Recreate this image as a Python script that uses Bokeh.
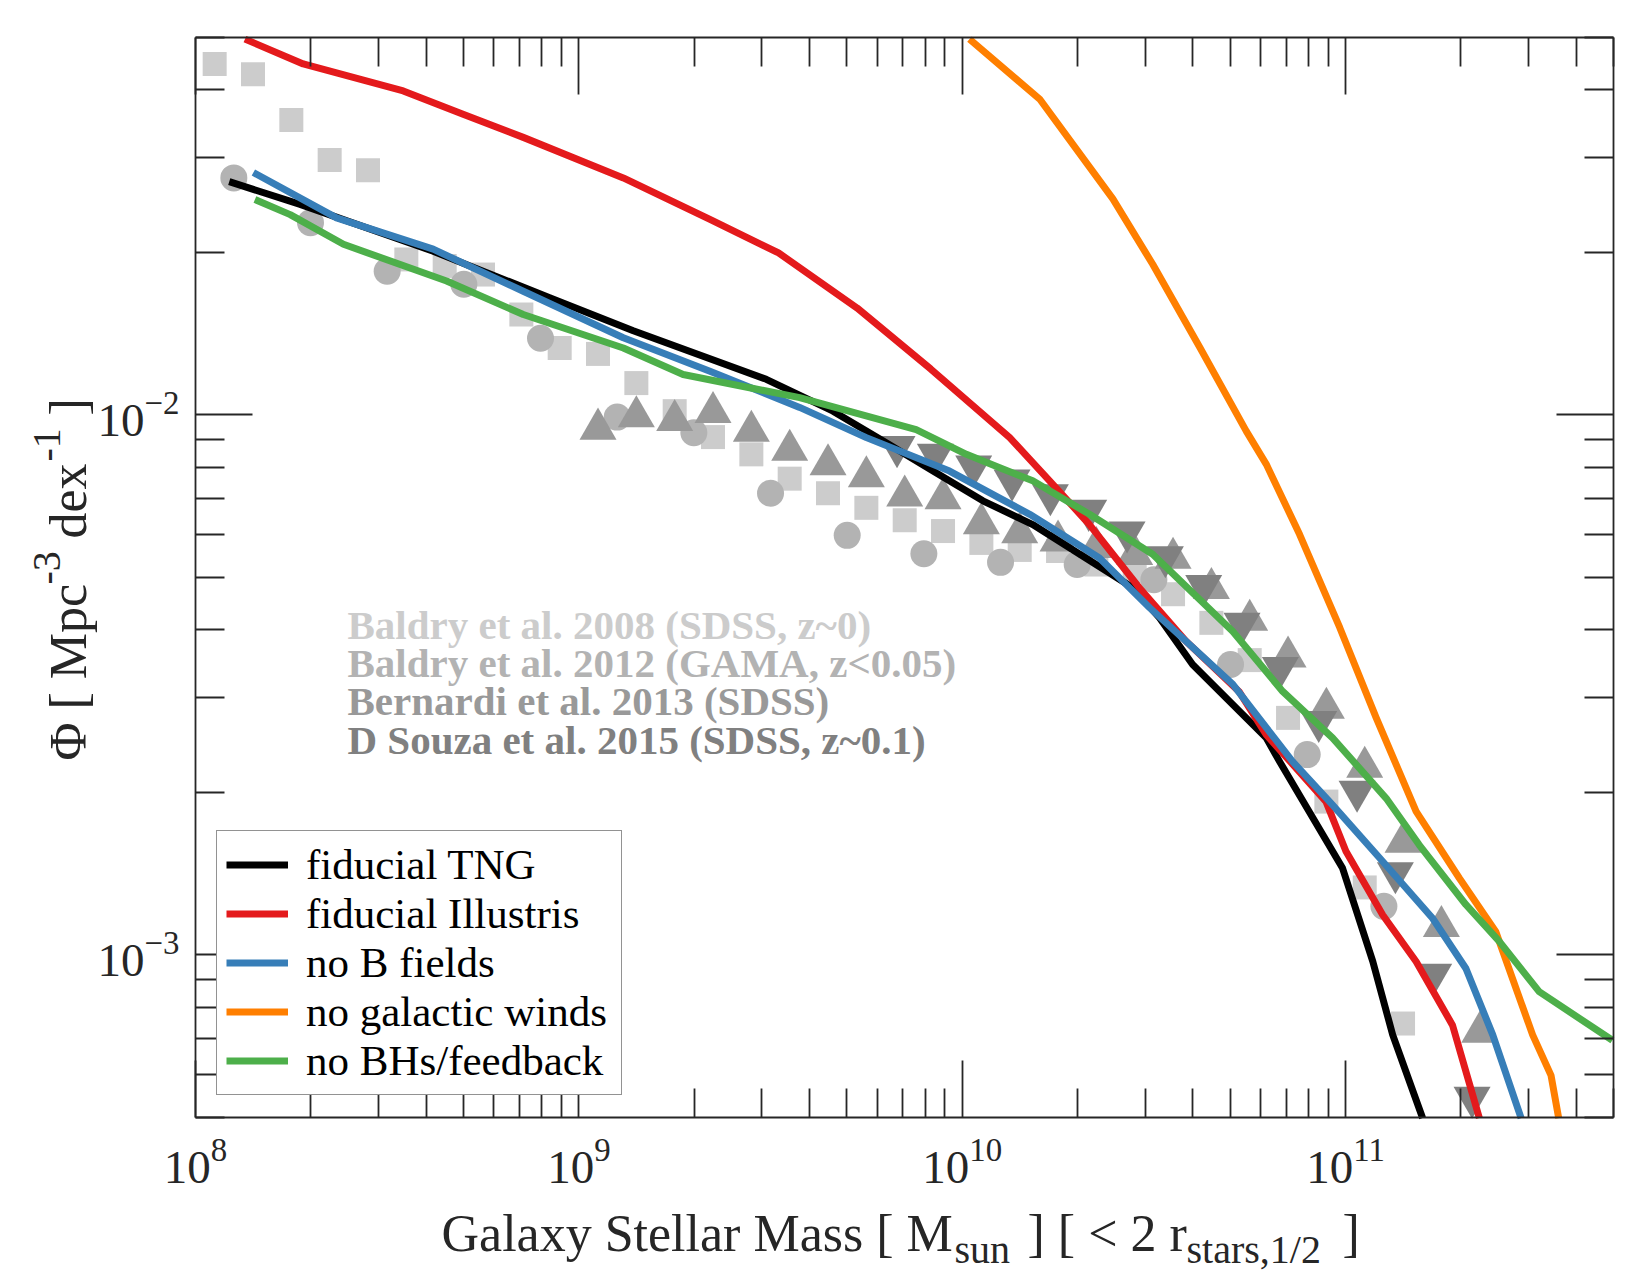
import numpy as np
from bokeh.plotting import figure
from bokeh.models import LogAxis, FixedTicker, LogTickFormatter, Legend, LegendItem, Label, Range1d
from bokeh.embed import file_html
from bokeh.resources import INLINE

# ---------------- data: log10 values ----------------
# simulation curves
tng_logm = [8.088, 8.273, 8.620, 8.924, 9.142, 9.489, 9.663, 9.793, 9.924, 10.054, 10.184,
            10.376, 10.445, 10.515, 10.601, 10.793, 10.828, 10.992, 11.071, 11.123, 11.201]
tng_logphi = [-1.568, -1.610, -1.697, -1.783, -1.844, -1.934, -1.993, -2.048, -2.104, -2.159, -2.203,
              -2.289, -2.320, -2.376, -2.462, -2.598, -2.642, -2.839, -3.012, -3.148, -3.302]

ill_logm = [8.129, 8.281, 8.542, 8.698, 8.855, 9.116, 9.342, 9.521, 9.726, 9.918, 10.124,
            10.228, 10.332, 10.462, 10.584, 10.722, 10.793, 10.949, 11.001, 11.097, 11.184,
            11.279, 11.349]
ill_logphi = [-1.304, -1.350, -1.400, -1.443, -1.486, -1.561, -1.638, -1.700, -1.802, -1.915, -2.042,
              -2.122, -2.203, -2.320, -2.419, -2.512, -2.592, -2.716, -2.808, -2.926, -3.012,
              -3.130, -3.302]

nob_logm = [8.151, 8.368, 8.620, 8.855, 9.116, 9.342, 9.576, 9.750, 9.967, 10.176, 10.358,
            10.489, 10.706, 10.862, 10.966, 11.097, 11.227, 11.314, 11.384, 11.458]
nob_logphi = [-1.551, -1.635, -1.693, -1.771, -1.857, -1.919, -1.986, -2.042, -2.104, -2.184, -2.265,
              -2.357, -2.499, -2.642, -2.722, -2.827, -2.932, -3.025, -3.148, -3.302]

nowind_logm = [10.019, 10.202, 10.393, 10.497, 10.620, 10.741, 10.793, 10.880, 10.985, 11.080,
               11.184, 11.297, 11.392, 11.488, 11.536, 11.556]
nowind_logphi = [-1.304, -1.415, -1.600, -1.721, -1.875, -2.030, -2.091, -2.221, -2.394, -2.561,
                 -2.734, -2.858, -2.957, -3.148, -3.223, -3.302]

nobh_logm = [8.155, 8.247, 8.386, 8.655, 8.855, 9.116, 9.272, 9.576, 9.880, 10.011, 10.098,
             10.184, 10.332, 10.497, 10.706, 10.836, 10.966, 11.106, 11.192, 11.314, 11.401,
             11.505, 11.696]
nobh_logphi = [-1.601, -1.629, -1.684, -1.752, -1.814, -1.876, -1.925, -1.968, -2.027, -2.073, -2.098,
               -2.122, -2.184, -2.258, -2.401, -2.512, -2.598, -2.710, -2.796, -2.907, -2.975,
               -3.068, -3.158]

# observational data points
baldry08_logm = [8.05, 8.15, 8.25, 8.35, 8.45, 8.55, 8.65, 8.75, 8.85, 8.95, 9.05, 9.15, 9.25,
                 9.35, 9.45, 9.55, 9.65, 9.75, 9.85, 9.95, 10.05, 10.15, 10.25, 10.35, 10.45,
                 10.55, 10.65, 10.75, 10.85, 10.95, 11.05, 11.15]
baldry08_logphi = [-1.350, -1.369, -1.454, -1.528, -1.547, -1.712, -1.724, -1.740, -1.814, -1.876,
                   -1.887, -1.941, -1.993, -2.041, -2.073, -2.118, -2.145, -2.172, -2.195, -2.215,
                   -2.237, -2.250, -2.252, -2.277, -2.289, -2.332, -2.385, -2.454, -2.561, -2.716,
                   -2.875, -3.127]

baldry12_logm = [8.1, 8.3, 8.5, 8.7, 8.9, 9.1, 9.3, 9.5, 9.7, 9.9, 10.1, 10.3, 10.5, 10.7, 10.9, 11.1]
baldry12_logphi = [-1.561, -1.644, -1.734, -1.758, -1.858, -2.004, -2.033, -2.145, -2.223, -2.257,
                   -2.273, -2.277, -2.305, -2.462, -2.629, -2.910]

bernardi_logm = [9.05, 9.15, 9.25, 9.35, 9.45, 9.55, 9.65, 9.75, 9.85, 9.95, 10.05, 10.15, 10.25,
                 10.35, 10.45, 10.55, 10.65, 10.75, 10.85, 10.95, 11.05, 11.15, 11.25, 11.35]
bernardi_logphi = [-2.026, -2.003, -2.010, -1.995, -2.030, -2.065, -2.092, -2.114, -2.150, -2.155,
                   -2.201, -2.218, -2.233, -2.245, -2.258, -2.265, -2.321, -2.380, -2.448, -2.543,
                   -2.652, -2.791, -2.947, -3.143]

dsouza_logm = [9.83, 9.93, 10.03, 10.13, 10.23, 10.33, 10.43, 10.53, 10.63, 10.73, 10.83, 10.93,
               11.03, 11.13, 11.23, 11.33]
dsouza_logphi = [-2.059, -2.073, -2.095, -2.121, -2.148, -2.177, -2.217, -2.263, -2.316, -2.386,
                 -2.468, -2.568, -2.697, -2.848, -3.036, -3.264]

legend_labels = ["fiducial TNG", "fiducial Illustris", "no B fields", "no galactic winds", "no BHs/feedback"]
obs_labels = ["Baldry et al. 2008 (SDSS, z~0)", "Baldry et al. 2012 (GAMA, z<0.05)",
              "Bernardi et al. 2013 (SDSS)", "D Souza et al. 2015 (SDSS, z~0.1)"]

# ---------------- styling ----------------
LINE_COLORS = ["#000000", "#e41a1c", "#377eb8", "#ff7f00", "#4daf4a"]
OBS_COLORS = ["#cccccc", "#b3b3b3", "#999999", "#808080"]
AX = "#262626"
FONT = "Liberation Serif"

W, H = 1650, 1275
BL, BR, BT, BB = 195, 1613, 37, 1117          # plot box edges in canvas pixels
XMIN, XMAX, YMIN, YMAX = 1e8, 5e11, 5e-4, 5e-2

# the plotting frame covers the whole canvas; the box is drawn by axes fixed at its edges
ppd_x = (BR - BL) / (np.log10(XMAX) - np.log10(XMIN))
ppd_y = (BB - BT) / (np.log10(YMAX) - np.log10(YMIN))
x_rng = Range1d(10 ** (np.log10(XMIN) - BL / ppd_x), 10 ** (np.log10(XMAX) + (W - BR) / ppd_x))
y_rng = Range1d(10 ** (np.log10(YMIN) - (H - BB) / ppd_y), 10 ** (np.log10(YMAX) + BT / ppd_y))

p = figure(width=W, height=H, x_axis_type="log", y_axis_type="log",
           x_range=x_rng, y_range=y_rng,
           output_backend="svg", toolbar_location=None,
           min_border_left=0, min_border_right=0, min_border_top=0, min_border_bottom=0)
p.xgrid.visible = False
p.ygrid.visible = False
p.outline_line_color = None
p.background_fill_color = "white"
p.border_fill_color = "white"

x_major = [1e8, 1e9, 1e10, 1e11]
x_minor = [m * 10.0 ** e for e in range(8, 12) for m in range(2, 10) if m * 10.0 ** e <= 5e11]
y_major = [1e-3, 1e-2]
y_minor = [m * 10.0 ** e for e in (-4, -3, -2) for m in range(2, 10) if 5e-4 <= m * 10.0 ** e <= 5e-2]


def style_axis(ax, major, minor, labels, loc, bounds, standoff=20):
    ax.fixed_location = loc
    ax.bounds = bounds
    ax.ticker = FixedTicker(ticks=major, minor_ticks=minor)
    ax.major_tick_in = 57
    ax.major_tick_out = 0
    ax.minor_tick_in = 29
    ax.minor_tick_out = 0
    ax.axis_line_color = AX
    ax.axis_line_width = 1.8
    ax.major_tick_line_color = AX
    ax.major_tick_line_width = 1.8
    ax.minor_tick_line_color = AX
    ax.minor_tick_line_width = 1.8
    ax.formatter = LogTickFormatter()
    ax.major_label_text_font = FONT
    if labels:
        ax.major_label_text_font_size = "47px"
        ax.major_label_text_color = AX
        ax.major_label_standoff = standoff
    else:
        ax.major_label_text_font_size = "8px"
        ax.major_label_text_color = None
        ax.major_label_standoff = 0


style_axis(p.below[0], x_major, x_minor, True, YMIN, (XMIN, XMAX), 22)
style_axis(p.left[0], y_major, y_minor, True, XMIN, (YMIN, YMAX), 16)
top = LogAxis()
right = LogAxis()
style_axis(top, x_major, x_minor, False, YMAX, (XMIN, XMAX))
style_axis(right, y_major, y_minor, False, XMAX, (YMIN, YMAX))
p.add_layout(top, "above")
p.add_layout(right, "right")

# ---------------- observational points ----------------
obs = [(baldry08_logm, baldry08_logphi, "square", 24),
       (baldry12_logm, baldry12_logphi, "circle", 27),
       (bernardi_logm, bernardi_logphi, "triangle", 37),
       (dsouza_logm, dsouza_logphi, "inverted_triangle", 37)]
for (lm, lp, mk, sz), col in zip(obs, OBS_COLORS):
    p.scatter(10.0 ** np.array(lm), 10.0 ** np.array(lp), marker=mk, size=sz,
              fill_color=col, line_color=None)

# ---------------- simulation curves ----------------
curves = [(tng_logm, tng_logphi), (ill_logm, ill_logphi), (nob_logm, nob_logphi),
          (nowind_logm, nowind_logphi), (nobh_logm, nobh_logphi)]
items = []
for (lm, lp), col, lab in zip(curves, LINE_COLORS, legend_labels):
    r = p.line(10.0 ** np.array(lm), 10.0 ** np.array(lp), line_color=col, line_width=7,
               line_join="round")
    items.append(LegendItem(label=lab, renderers=[r]))

legend = Legend(items=items, location=(216, H - 1095), orientation="vertical",
                border_line_color=AX, border_line_width=1.7, background_fill_color="white",
                background_fill_alpha=1.0, padding=9, spacing=0, margin=0,
                glyph_width=62, glyph_height=49, label_height=49, label_width=306,
                label_standoff=18, label_text_font=FONT, label_text_font_size="43px",
                label_text_color="#000000")
p.add_layout(legend, "center")


# ---------------- texts (positions in canvas pixels, frame = whole canvas) ----------------
def add_text(txt, cx, cy, size, angle=0.0, bold=False, color=AX):
    p.add_layout(Label(x=cx, y=H - cy, x_units="screen", y_units="screen", text=txt,
                       angle=angle, text_font=FONT, text_font_size=f"{size}px",
                       text_font_style="bold" if bold else "normal", text_color=color,
                       text_align="left", text_baseline="alphabetic"))


for lab, col, by in zip(obs_labels, OBS_COLORS, [624, 662, 700, 739]):
    add_text(lab, 347, by, 41, bold=True, color=col)

# x-axis title with subscripts
add_text("Galaxy Stellar Mass [ M", 441, 1233, 52)
add_text("sun", 954, 1249, 40)
add_text("] [ < 2 r", 1027, 1233, 52)
add_text("stars,1/2", 1186, 1249, 40)
add_text("]", 1342, 1233, 52)

# y-axis title with superscripts (rotated)
A = np.pi / 2
add_text("\u03a6 [ Mpc", 68, 760, 52, angle=A)
add_text("-3", 46, 584, 40, angle=A)
add_text("dex", 68, 538, 52, angle=A)
add_text("-1", 46, 461, 40, angle=A)
add_text("]", 68, 415, 52, angle=A)

open("out.html", "w").write(file_html(p, INLINE))
